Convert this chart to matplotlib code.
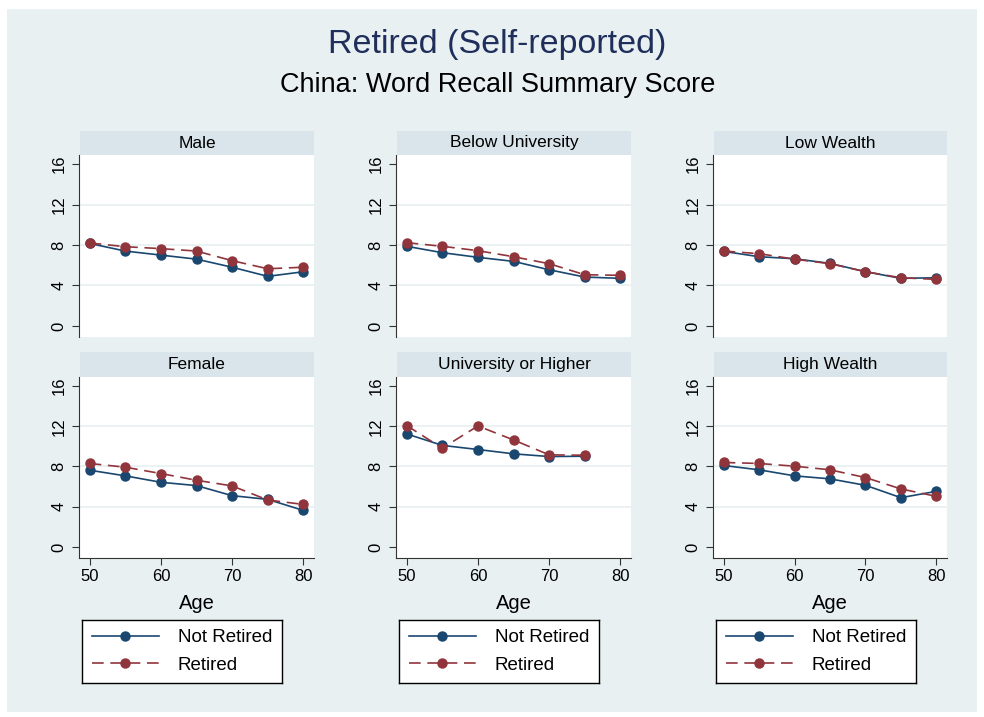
import matplotlib
matplotlib.use("Agg")
import matplotlib.pyplot as plt
from matplotlib.lines import Line2D
from matplotlib.patches import Rectangle

plt.rcParams['font.family'] = ['Liberation Sans', 'DejaVu Sans']

ages = [50, 55, 60, 65, 70, 75, 80]
panels = ["Male", "Below University", "Low Wealth",
          "Female", "University or Higher", "High Wealth"]

male_not = [8.15, 7.4, 7.0, 6.6, 5.8, 4.9, 5.35]
male_ret = [8.2, 7.83, 7.64, 7.4, 6.45, 5.65, 5.8]
below_not = [7.87, 7.24, 6.78, 6.38, 5.55, 4.83, 4.7]
below_ret = [8.23, 7.87, 7.44, 6.84, 6.15, 5.06, 5.0]
low_not = [7.37, 6.84, 6.64, 6.18, 5.36, 4.7, 4.76]
low_ret = [7.4, 7.14, 6.6, 6.15, 5.36, 4.76, 4.6]
female_not = [7.63, 7.07, 6.43, 6.1, 5.1, 4.73, 3.63]
female_ret = [8.3, 7.93, 7.3, 6.63, 6.07, 4.67, 4.23]
univ_not = [11.24, 10.1, 9.69, 9.26, 8.99, 9.02]
univ_ret = [12.07, 9.82, 12.03, 10.64, 9.16, 9.12]
high_not = [8.1, 7.67, 7.07, 6.77, 6.13, 4.9, 5.53]
high_ret = [8.4, 8.3, 8.03, 7.67, 6.9, 5.77, 5.03]

not_series = [male_not, below_not, low_not, female_not, univ_not, high_not]
ret_series = [male_ret, below_ret, low_ret, female_ret, univ_ret, high_ret]
yticks = [0, 4, 8, 12, 16]
xticks = [50, 60, 70, 80]

navy = '#1A476F'
maroon = '#90353B'
bg = '#E8F0F2'
strip = '#D9E5EA'

W, H = 984, 717
fig = plt.figure(figsize=(W / 100, H / 100), dpi=100, facecolor='white')
fig.patches.append(Rectangle((7 / W, 1 - 712 / H), 970 / W, 703 / H,
                             transform=fig.transFigure, facecolor=bg,
                             edgecolor='none', zorder=-10))


def px_axes(l, t, r, b):
    return fig.add_axes([l / W, 1 - b / H, (r - l) / W, (b - t) / H])


fig.text(497 / W, 1 - 45 / H, "Retired (Self-reported)", ha='center',
         va='center', fontsize=24.5, color='#1F2E5A')
fig.text(498 / W, 1 - 85 / H, "China: Word Recall Summary Score",
         ha='center', va='center', fontsize=19.5, color='black')

cols = [(79, 314), (396, 631), (713, 947)]
rows = [(131, 155, 337), (352, 377, 558)]

for i, name in enumerate(panels):
    r, c = divmod(i, 3)
    l, rr = cols[c]
    st, t, b = rows[r]
    sax = px_axes(l + 1, st, rr, t)
    sax.set_facecolor(strip)
    sax.set_xticks([])
    sax.set_yticks([])
    for s in sax.spines.values():
        s.set_visible(False)
    sax.text(0.5, 0.5, name, ha='center', va='center', fontsize=12.5,
             transform=sax.transAxes)

    ax = px_axes(l, t, rr, b)
    ax.set_facecolor('white')
    x = ages[:len(not_series[i])]
    for g in [4, 8, 12]:
        ax.axhline(g, color=bg, lw=1.2, zorder=0)
    ax.plot(x, not_series[i], color=navy, lw=1.2, marker='o', ms=6.5,
            zorder=3)
    ax.plot(x, ret_series[i], color=maroon, lw=1.2, marker='o', ms=6.5,
            linestyle=(0, (7, 4)), zorder=4)
    ax.set_xlim(48.5, 81.5)
    ax.set_ylim(-1.1, 16.9)
    ax.set_yticks(yticks)
    ax.set_yticklabels([str(v) for v in yticks], rotation=90, va='center')
    ax.tick_params(axis='y', length=5, color='#333333', labelsize=12, pad=4)
    ax.spines['top'].set_visible(False)
    ax.spines['right'].set_visible(False)
    ax.spines['left'].set_color('#333333')
    if r == 0:
        ax.spines['bottom'].set_visible(False)
        ax.set_xticks([])
    else:
        ax.spines['bottom'].set_color('#333333')
        ax.set_xticks(xticks)
        ax.tick_params(axis='x', length=5, color='#333333', labelsize=12,
                       pad=3)
        ax.set_xlabel("Age", fontsize=14.5, labelpad=7)

        lax = px_axes(l + 3, 620, l + 203, 683)
        lax.set_facecolor('white')
        lax.set_xticks([])
        lax.set_yticks([])
        for s in lax.spines.values():
            s.set_color('black')
            s.set_linewidth(1.0)
        handles = [Line2D([], [], color=navy, lw=1.2, marker='o', ms=6.5),
                   Line2D([], [], color=maroon, lw=1.2, marker='o', ms=6.5,
                          linestyle=(0, (7, 4)))]
        lax.legend(handles, ["Not Retired", "Retired"], loc='center',
                   frameon=False, fontsize=13.5, handlelength=3.6,
                   handletextpad=1.0, labelspacing=0.55, numpoints=1)

fig.savefig('out.png', dpi=100, facecolor='white')
